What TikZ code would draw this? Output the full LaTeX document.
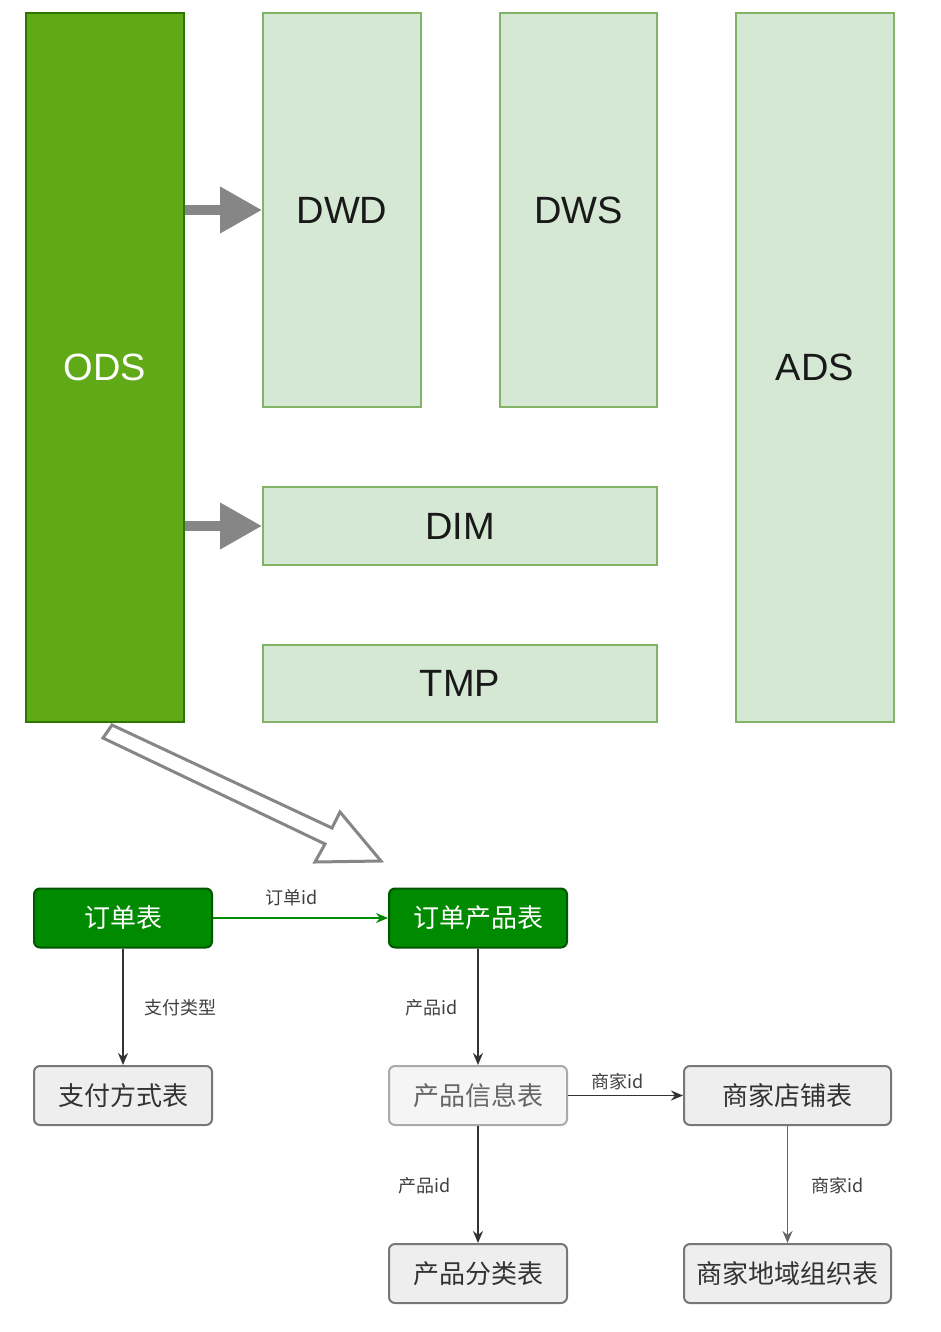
\documentclass[tikz,border=0pt]{standalone}
\usepackage{fontspec}
\setmainfont{Liberation Sans}
\newfontfamily\cjk{Noto Sans CJK SC}
\usetikzlibrary{arrows.meta}
\definecolor{odsfill}{HTML}{60A917}
\definecolor{odsline}{HTML}{2D7600}
\definecolor{layfill}{HTML}{D5E8D4}
\definecolor{layline}{HTML}{82B366}
\definecolor{tabgreen}{HTML}{008A00}
\definecolor{tabgreenline}{HTML}{005700}
\definecolor{grayfill}{HTML}{EEEEEE}
\definecolor{grayline}{HTML}{777777}
\definecolor{lightfill}{HTML}{F5F5F5}
\definecolor{lightline}{HTML}{AAAAAA}
\tikzset{
  layer/.style={draw=layline, fill=layfill, line width=1.8pt, inner sep=0pt,
    font=\fontsize{38}{44}\selectfont, text=black!90},
  odsbox/.style={draw=odsline, fill=odsfill, line width=1.8pt, inner sep=0pt,
    font=\fontsize{38}{44}\selectfont, text=white},
  bigarrow/.style={draw=gray!95, line width=10pt, -{Triangle[length=42pt,width=44pt]}},
  tabbase/.style={rounded corners=6pt, line width=2pt, inner sep=0pt,
    minimum height=59pt, font=\cjk\fontsize{26}{30}\selectfont},
  greentab/.style={tabbase, draw=tabgreenline, fill=tabgreen, text=white},
  graytab/.style={tabbase, draw=grayline, fill=grayfill, text=black!80},
  lighttab/.style={tabbase, draw=lightline, fill=lightfill, text=black!60},
  link/.style={line width=1.9pt, -{Stealth[length=12pt,width=10pt]}},
  lab/.style={font=\cjk\fontsize{18}{20}\selectfont, text=black!75, inner sep=1pt}
}
\begin{document}
\begin{tikzpicture}[x=1pt,y=-1pt]
\useasboundingbox (0,0) rectangle (940,1332);
% layers
\node[odsbox, minimum width=158pt, minimum height=709pt] (ODS) at (105,367.5) {ODS};
\node[layer, minimum width=158pt, minimum height=394pt] (DWD) at (342,210) {DWD};
\node[layer, minimum width=157pt, minimum height=394pt] (DWS) at (578.5,210) {DWS};
\node[layer, minimum width=158pt, minimum height=709pt] (ADS) at (815,367.5) {ADS};
\node[layer, minimum width=394pt, minimum height=78pt] (DIM) at (460,526) {DIM};
\node[layer, minimum width=394pt, minimum height=77pt] (TMP) at (460,683.5) {TMP};
% gray arrows
\draw[bigarrow] (ODS.east |- DWD.west) -- (DWD.west);
\draw[bigarrow] (ODS.east |- DIM.west) -- (DIM.west);
% hollow block arrow
\draw[draw=gray!95, fill=white, line width=3pt, line join=miter]
  (112,725) -- (332,828) -- (340,812) -- (381,861) -- (315,862) -- (325,844) -- (103,738) -- cycle;
% tables
\node[greentab, minimum width=178pt] (order) at (123,918) {订单表};
\node[greentab, minimum width=178pt] (orderprod) at (478,918) {订单产品表};
\node[graytab, minimum width=178pt] (pay) at (123,1095.5) {支付方式表};
\node[lighttab, minimum width=178pt] (prodinfo) at (478,1095.5) {产品信息表};
\node[graytab, minimum width=207pt] (shop) at (787.5,1095.5) {商家店铺表};
\node[graytab, minimum width=178pt] (cat) at (478,1273.5) {产品分类表};
\node[graytab, minimum width=207pt] (region) at (787.5,1273.5) {商家地域组织表};
% links
\draw[link, draw=tabgreen, color=tabgreen] (order) -- (orderprod);
\node[lab] (l1) at (292,898) {订单id};
\draw[link, draw=black!80] (order) -- (pay);
\node[lab] (l2) at (180,1008) {支付类型};
\draw[link, draw=black!80] (orderprod) -- (prodinfo);
\node[lab] (l3) at (432,1008) {产品id};
\draw[link, draw=black!80] (prodinfo) -- (shop);
\node[lab] (l4) at (618,1082) {商家id};
\draw[link, draw=black!80] (prodinfo) -- (cat);
\node[lab] (l5) at (425,1186) {产品id};
\draw[link, draw=black!60] (shop.south -| region.north) -- (region.north);
\node[lab] (l6) at (838,1186) {商家id};
\end{tikzpicture}
\end{document}
